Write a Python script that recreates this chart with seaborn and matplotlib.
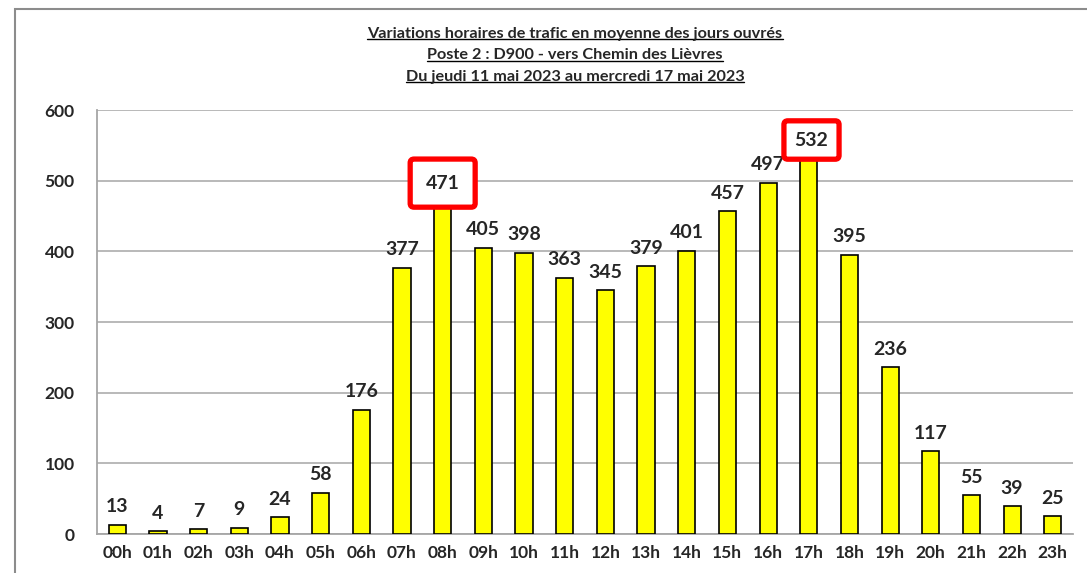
import matplotlib
matplotlib.use("Agg")
import matplotlib.pyplot as plt
import matplotlib.patches as patches
import seaborn as sns
import pandas as pd

# hourly averages, working days
heures = ["00h", "01h", "02h", "03h", "04h", "05h", "06h", "07h", "08h", "09h", "10h", "11h",
          "12h", "13h", "14h", "15h", "16h", "17h", "18h", "19h", "20h", "21h", "22h", "23h"]
trafic = [13, 4, 7, 9, 24, 58, 176, 377, 471, 405, 398, 363,
          345, 379, 401, 457, 497, 532, 395, 236, 117, 55, 39, 25]
# peak hours highlighted with a red frame
pointes = ["08h", "17h"]
# frame padding for each peak (box around 17h is tighter)
pad_cadre = {"08h": 0.8, "17h": 0.55}

titre = ["Variations horaires de trafic en moyenne des jours ouvrés",
         "Poste 2 : D900 - vers Chemin des Lièvres",
         "Du jeudi 11 mai 2023 au mercredi 17 mai 2023"]

sns.set_theme(style="white")
plt.rcParams["font.family"] = ["Lato", "DejaVu Sans"]

df = pd.DataFrame({"heure": heures, "trafic": trafic})

fig = plt.figure(figsize=(10.87, 5.73), dpi=100)
ax = fig.add_axes([0.0892, 0.068, 0.898, 0.74])

sns.barplot(data=df, x="heure", y="trafic", color="#ffff00", edgecolor="black",
            linewidth=1.2, width=0.42, saturation=1, ax=ax, zorder=3)

ax.set_ylim(0, 600)
ax.set_yticks(range(0, 601, 100))
ax.yaxis.grid(True, color="#a6a6a6", linewidth=1.1, zorder=0)
ax.set_axisbelow(True)
ax.set_xlabel("")
ax.set_ylabel("")
for s in ["top", "right"]:
    ax.spines[s].set_visible(False)
for s in ["left", "bottom"]:
    ax.spines[s].set_color("#a6a6a6")
    ax.spines[s].set_linewidth(1.3)
ax.tick_params(axis="both", length=0, labelsize=12.5)
ax.tick_params(axis="x", pad=8)
ax.tick_params(axis="y", pad=16)
for lab in ax.get_xticklabels() + ax.get_yticklabels():
    lab.set_fontweight("bold")

for i, (h, v) in enumerate(zip(heures, trafic)):
    if h in pointes:
        box = dict(boxstyle="round,pad=%.2f,rounding_size=0.2" % pad_cadre[h],
                   facecolor="white", edgecolor="#ff0000", linewidth=3.8)
        dx = 2 if pad_cadre[h] < 0.7 else 0
    else:
        box = None
        dx = 0
    ax.annotate(str(v), (i, v), xytext=(dx, 13), textcoords="offset points",
                ha="center", va="center", fontsize=14, fontweight="bold",
                bbox=box, zorder=5)

y0 = 0.9407
for k, ligne in enumerate(titre):
    fig.text(0.529, y0 - k * 0.0375, ligne, ha="center", va="center",
             fontsize=11.7, fontweight="bold")
fig.canvas.draw()
r = fig.canvas.get_renderer()
for t in list(fig.texts):
    bb = t.get_window_extent(renderer=r).transformed(fig.transFigure.inverted())
    fig.add_artist(plt.Line2D([bb.x0, bb.x1], [bb.y0 + 0.003, bb.y0 + 0.003],
                              color="black", linewidth=1.0, transform=fig.transFigure))

# chart frame
fig.add_artist(patches.Rectangle((0.0138, -0.1), 1.2, 1.084, transform=fig.transFigure,
                                 fill=False, edgecolor="#8c8c8c", linewidth=1.5))

fig.savefig("out.png", dpi=100)
